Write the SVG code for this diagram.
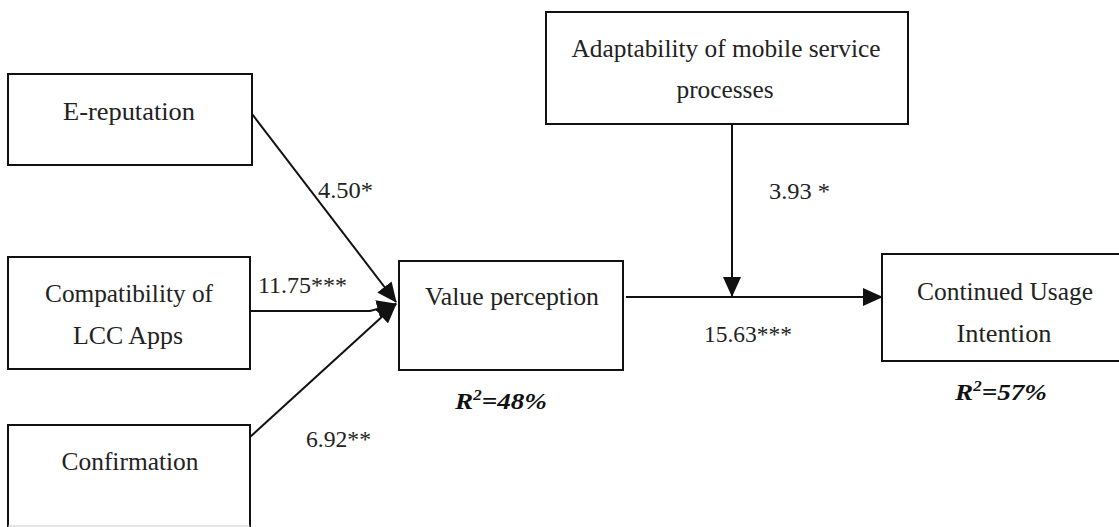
<svg xmlns="http://www.w3.org/2000/svg" width="1119" height="527" viewBox="0 0 1119 527">
  <style>
    .box { fill: #ffffff; stroke: #111111; stroke-width: 2; }
    .lbl { font-family: "Liberation Serif", "DejaVu Serif", serif; font-size: 25px; fill: #222222; text-anchor: middle; }
    .coef { font-family: "Liberation Serif", "DejaVu Serif", serif; font-size: 24px; fill: #222222; }
    .r2 { font-family: "Liberation Serif", "DejaVu Serif", serif; font-size: 24px; font-weight: bold; font-style: italic; fill: #111111; }
    .edge { fill: none; stroke: #111111; stroke-width: 2; }
  </style>
  <defs>
    <marker id="arrow" markerUnits="userSpaceOnUse" markerWidth="20" markerHeight="18" refX="19" refY="9" orient="auto">
      <path d="M0,0 L20,9 L0,18 z" fill="#111111"/>
    </marker>
  </defs>
  <rect width="1119" height="527" fill="#ffffff"/>

  <g id="connectors">
    <line class="edge" x1="252" y1="114" x2="396" y2="302" marker-end="url(#arrow)"/>
    <path class="edge" d="M250,311 H370 L396,304" marker-end="url(#arrow)"/>
    <line class="edge" x1="250" y1="437" x2="396" y2="304" marker-end="url(#arrow)"/>
    <line class="edge" x1="626" y1="297" x2="882" y2="297" marker-end="url(#arrow)"/>
    <line class="edge" x1="732" y1="124" x2="732" y2="296" stroke="#333333" marker-end="url(#arrow)"/>
    <text class="coef" x="318" y="198" textLength="55" lengthAdjust="spacingAndGlyphs">4.50*</text>
    <text class="coef" x="258" y="293" textLength="89" lengthAdjust="spacingAndGlyphs">11.75***</text>
    <text class="coef" x="306" y="447" textLength="65" lengthAdjust="spacingAndGlyphs">6.92**</text>
    <text class="coef" x="769" y="199" textLength="61" lengthAdjust="spacingAndGlyphs">3.93 *</text>
    <text class="coef" x="704" y="342" textLength="88" lengthAdjust="spacingAndGlyphs">15.63***</text>
  </g>

  <g id="e-reputation">
    <rect class="box" x="8" y="74" width="244" height="91"/>
    <text class="lbl" x="129" y="120" textLength="132" lengthAdjust="spacingAndGlyphs">E-reputation</text>
  </g>

  <g id="compatibility">
    <rect class="box" x="8" y="257" width="242" height="112"/>
    <text class="lbl" x="129" y="302" textLength="168" lengthAdjust="spacingAndGlyphs">Compatibility of</text>
    <text class="lbl" x="128" y="344" textLength="110" lengthAdjust="spacingAndGlyphs">LCC Apps</text>
  </g>

  <g id="confirmation">
    <path class="box" d="M8,530 V425 H250 V530"/>
    <line x1="8" y1="526" x2="250" y2="526" stroke="#cccccc" stroke-width="1"/>
    <text class="lbl" x="130" y="470" textLength="137" lengthAdjust="spacingAndGlyphs">Confirmation</text>
  </g>

  <g id="value-perception">
    <rect class="box" x="399" y="261" width="224" height="109"/>
    <text class="lbl" x="512" y="305" textLength="174" lengthAdjust="spacingAndGlyphs">Value perception</text>
    <text class="r2" x="455" y="409" textLength="92" lengthAdjust="spacingAndGlyphs">R<tspan font-size="15" dy="-9">2</tspan><tspan dy="9">=48%</tspan></text>
  </g>

  <g id="adaptability">
    <rect class="box" x="546" y="12" width="362" height="112"/>
    <text class="lbl" x="726" y="57" textLength="309" lengthAdjust="spacingAndGlyphs">Adaptability of mobile service</text>
    <text class="lbl" x="725" y="98" textLength="97" lengthAdjust="spacingAndGlyphs">processes</text>
  </g>

  <g id="continued-usage">
    <rect class="box" x="882" y="254" width="250" height="107"/>
    <text class="lbl" x="1005" y="300" textLength="176" lengthAdjust="spacingAndGlyphs">Continued Usage</text>
    <text class="lbl" x="1004" y="342" textLength="95" lengthAdjust="spacingAndGlyphs">Intention</text>
    <text class="r2" x="955" y="400" textLength="92" lengthAdjust="spacingAndGlyphs">R<tspan font-size="15" dy="-9">2</tspan><tspan dy="9">=57%</tspan></text>
  </g>
</svg>
